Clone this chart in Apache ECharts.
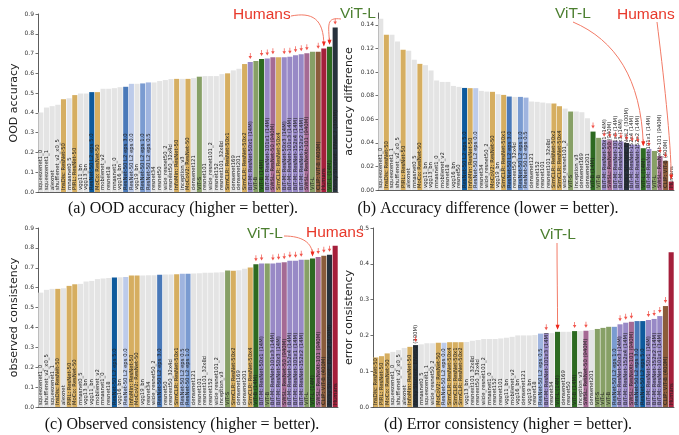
<!DOCTYPE html>
<html>
<head>
<meta charset="utf-8">
<script src="https://cdn.jsdelivr.net/npm/echarts@6/dist/echarts.min.js"></script>
<style>
  html, body { margin: 0; padding: 0; background: #fff; }
  #main { width: 679px; height: 435px; }
</style>
</head>
<body>
<div id="main"></div>
<script>
// (a) OOD accuracy
var namesA = ["squeezenet1_0","squeezenet1_1","alexnet","shufflenet_v2_x0_5","InsDis: ResNet-50","mnasnet0_5","PIRL: ResNet-50","vgg11_bn","vgg13_bn","ResNet-50 L2 eps 5.0","MoCo: ResNet-50","mobilenet_v2","resnet18","mnasnet1_0","vgg16_bn","ResNet-50 L2 eps 3.0","ResNet-50 L2 eps 0.0","vgg19_bn","ResNet-50 L2 eps 1.0","ResNet-50 L2 eps 0.5","resnet34","resnet50","wide_resnet50_2","resnext50_32x4d","InfoMin: ResNet-50","inception_v3","MoCoV2: ResNet-50","densenet121","ViT-S","resnet101","wide_resnet101_2","resnet152","resnext101_32x8d","SimCLR: ResNet-50x1","densenet169","densenet201","SimCLR: ResNet-50x2","BiT-M: ResNet-50x1 (14M)","ViT-B","ViT-B (14M)","BiT-M: ResNet-101x1 (14M)","SWSL: ResNet-50 (940M)","SimCLR: ResNet-50x4","BiT-M: ResNet-50x3 (14M)","BiT-M: ResNet-101x3 (14M)","BiT-M: ResNet-152x4 (14M)","BiT-M: ResNet-152x2 (14M)","SWSL: ResNeXt-101 (940M)","ViT-L","CLIP: ViT-B (400M)","Humans","ViT-L (14M)","Noisy Student: ENetL2 (300M)"];
var valuesA = [0.402,0.427,0.434,0.441,0.469,0.474,0.490,0.498,0.498,0.505,0.505,0.522,0.522,0.525,0.530,0.532,0.547,0.547,0.549,0.554,0.554,0.561,0.566,0.571,0.572,0.572,0.572,0.576,0.583,0.586,0.586,0.586,0.596,0.600,0.615,0.623,0.647,0.657,0.662,0.672,0.675,0.681,0.681,0.681,0.684,0.691,0.697,0.701,0.709,0.709,0.726,0.735,0.832];

// (b) accuracy difference
var namesB = ["squeezenet1_0","InsDis: ResNet-50","squeezenet1_1","shufflenet_v2_x0_5","PIRL: ResNet-50","alexnet","mnasnet0_5","MoCo: ResNet-50","vgg11_bn","vgg13_bn","mnasnet1_0","mobilenet_v2","resnet18","vgg16_bn","resnet50","ResNet-50 L2 eps 5.0","InfoMin: ResNet-50","ResNet-50 L2 eps 0.0","resnet34","wide_resnet50_2","MoCoV2: ResNet-50","vgg19_bn","SimCLR: ResNet-50x1","ResNet-50 L2 eps 3.0","resnext50_32x4d","ResNet-50 L2 eps 1.0","ResNet-50 L2 eps 0.5","densenet121","resnet152","resnet101","resnext101_32x8d","SimCLR: ResNet-50x2","SimCLR: ResNet-50x4","wide_resnet101_2","ViT-S","inception_v3","densenet169","densenet201","ViT-B (14M)","ViT-B","BiT-M: ResNet-50x1 (14M)","SWSL: ResNet-50 (940M)","BiT-M: ResNet-101x3 (14M)","BiT-M: ResNet-50x3 (14M)","Noisy Student: ENetL2 (300M)","BiT-M: ResNet-152x4 (14M)","BiT-M: ResNet-152x2 (14M)","ViT-L (14M)","BiT-M: ResNet-101x1 (14M)","ViT-L","SWSL: ResNeXt-101 (940M)","CLIP: ViT-B (400M)","Humans"];
var valuesB = [0.1451,0.1315,0.1315,0.1259,0.1188,0.1180,0.1103,0.1069,0.1058,0.1013,0.0928,0.0916,0.0916,0.0882,0.0874,0.0865,0.0863,0.0863,0.0840,0.0834,0.0832,0.0812,0.0806,0.0792,0.0789,0.0789,0.0783,0.0750,0.0747,0.0741,0.0735,0.0733,0.0710,0.0690,0.0665,0.0665,0.0659,0.0608,0.0495,0.0442,0.0425,0.0422,0.0418,0.0412,0.0398,0.0385,0.0382,0.0354,0.0348,0.0331,0.0288,0.0247,0.0071];

// (c) observed consistency
var namesC = ["squeezenet1_0","shufflenet_v2_x0_5","squeezenet1_1","InsDis: ResNet-50","alexnet","PIRL: ResNet-50","MoCo: ResNet-50","mnasnet0_5","vgg13_bn","vgg11_bn","mobilenet_v2","mnasnet1_0","resnet18","ResNet-50 L2 eps 5.0","vgg16_bn","ResNet-50 L2 eps 0.0","InfoMin: ResNet-50","MoCoV2: ResNet-50","vgg19_bn","resnet34","wide_resnet50_2","ResNet-50 L2 eps 3.0","resnet50","resnext50_32x4d","SimCLR: ResNet-50x1","ResNet-50 L2 eps 0.5","ResNet-50 L2 eps 1.0","densenet121","resnet101","resnext101_32x8d","resnet152","wide_resnet101_2","inception_v3","ViT-S","SimCLR: ResNet-50x2","densenet169","densenet201","SimCLR: ResNet-50x4","ViT-B (14M)","BiT-M: ResNet-50x1 (14M)","ViT-B","BiT-M: ResNet-101x3 (14M)","BiT-M: ResNet-50x3 (14M)","SWSL: ResNet-50 (940M)","BiT-M: ResNet-152x4 (14M)","BiT-M: ResNet-101x1 (14M)","BiT-M: ResNet-152x2 (14M)","ViT-L","ViT-L (14M)","SWSL: ResNeXt-101 (940M)","CLIP: ViT-B (400M)","Noisy Student: ENetL2 (300M)","Humans"];
var valuesC = [0.575,0.589,0.594,0.594,0.597,0.609,0.617,0.619,0.631,0.634,0.643,0.646,0.649,0.651,0.653,0.654,0.661,0.661,0.661,0.663,0.663,0.665,0.666,0.666,0.668,0.670,0.670,0.671,0.673,0.675,0.675,0.676,0.678,0.686,0.685,0.688,0.695,0.702,0.718,0.722,0.722,0.722,0.725,0.728,0.735,0.735,0.740,0.740,0.747,0.754,0.760,0.765,0.811];

// (d) error consistency
var namesD = ["InsDis: ResNet-50","PIRL: ResNet-50","MoCo: ResNet-50","squeezenet1_0","shufflenet_v2_x0_5","alexnet","InfoMin: ResNet-50","Noisy Student: ENetL2 (300M)","mnasnet0_5","squeezenet1_1","wide_resnet50_2","MoCoV2: ResNet-50","ResNet-50 L2 eps 0.0","SimCLR: ResNet-50x4","SimCLR: ResNet-50x1","SimCLR: ResNet-50x2","vgg13_bn","resnext101_32x8d","resnext50_32x4d","wide_resnet101_2","mnasnet1_0","resnet152","resnet101","vgg11_bn","mobilenet_v2","vgg16_bn","densenet121","vgg19_bn","resnet18","ResNet-50 L2 eps 0.5","BiT-M: ResNet-101x3 (14M)","resnet34","ViT-L (14M)","densenet169","resnet50","ViT-B (14M)","inception_v3","SWSL: ResNet-50 (940M)","densenet201","ViT-S","ViT-L","ViT-B","ResNet-50 L2 eps 1.0","BiT-M: ResNet-50x3 (14M)","BiT-M: ResNet-152x4 (14M)","SWSL: ResNeXt-101 (940M)","ResNet-50 L2 eps 3.0","ResNet-50 L2 eps 5.0","BiT-M: ResNet-50x1 (14M)","BiT-M: ResNet-152x2 (14M)","BiT-M: ResNet-101x1 (14M)","CLIP: ViT-B (400M)","Humans"];
var valuesD = [0.1385,0.142,0.1497,0.154,0.159,0.165,0.168,0.173,0.175,0.178,0.178,0.1795,0.1795,0.181,0.181,0.181,0.1815,0.185,0.187,0.190,0.190,0.190,0.1915,0.1935,0.196,0.200,0.200,0.200,0.201,0.205,0.206,0.2065,0.210,0.210,0.210,0.212,0.212,0.213,0.215,0.218,0.221,0.224,0.224,0.231,0.2355,0.238,0.240,0.240,0.243,0.246,0.254,0.282,0.432];

function barColor(n) {
  if (n === 'Humans') return '#a51f3b';
  if (n.indexOf('CLIP') === 0) return '#8b5c3b';
  if (n.indexOf('Noisy') === 0) return '#27323d';
  if (n.indexOf('SWSL') === 0) return '#a56a94';
  if (n.indexOf('BiT-M') === 0) return '#9889c6';
  if (n === 'ViT-B (14M)' || n === 'ViT-L (14M)') return '#2d6a21';
  if (n.indexOf('ViT') === 0) return '#87a066';
  if (n.indexOf('eps 5.0') > 0) return '#0e5a9d';
  if (n.indexOf('eps 3.0') > 0) return '#4a79b9';
  if (n.indexOf('eps 1.0') > 0) return '#7a9bd1';
  if (n.indexOf('eps 0.5') > 0) return '#9fb4df';
  if (n.indexOf('eps 0.0') > 0) return '#bdcbea';
  if (n.indexOf(': ResNet-50') > 0) return '#d6ae60';
  return '#e4e4e4';
}
// models trained on large datasets carry a "(xxM)" tag
function isFlagged(n) { return /\(\d+M\)/.test(n); }

var panels = [
  { names: namesA, values: valuesA, grid: {left: 38, top: 14, width: 300, height: 178},
    y: {max: 0.9, interval: 0.1, digits: 1, name: 'OOD accuracy', gap: 18} },
  { names: namesB, values: valuesB, grid: {left: 378, top: 13, width: 296, height: 177},
    y: {max: 0.15, interval: 0.02, digits: 2, name: 'accuracy difference', gap: 23} },
  { names: namesC, values: valuesC, grid: {left: 38, top: 228, width: 300, height: 179},
    y: {max: 0.9, interval: 0.1, digits: 1, name: 'observed consistency', gap: 18} },
  { names: namesD, values: valuesD, grid: {left: 373, top: 228, width: 301, height: 179},
    y: {max: 0.5, interval: 0.1, digits: 1, name: 'error consistency', gap: 18} }
];

var arrowPath = 'path://M4,0 L6,0 L6,6 L10,6 L5,12 L0,6 L4,6 Z';
var grids = [], xAxes = [], yAxes = [], series = [];

panels.forEach(function (p, k) {
  grids.push(p.grid);
  xAxes.push({
    type: 'category', gridIndex: k, data: p.names,
    axisLabel: {show: false}, axisTick: {show: false},
    axisLine: {lineStyle: {color: '#333', width: 0.8}}
  });
  yAxes.push({
    type: 'value', gridIndex: k, min: 0, max: p.y.max, interval: p.y.interval,
    name: p.y.name, nameLocation: 'middle', nameGap: p.y.gap,
    nameTextStyle: {fontFamily: 'DejaVu Sans', fontSize: 11, color: '#222'},
    splitLine: {show: false},
    axisLine: {show: true, lineStyle: {color: '#333', width: 0.8}},
    axisTick: {show: true, length: 2.5, lineStyle: {color: '#333', width: 0.7}},
    axisLabel: {
      fontFamily: 'DejaVu Sans', fontSize: 6, color: '#333', margin: 4,
      showMaxLabel: p.y.max === 0.15 ? false : true,
      formatter: (function (d) { return function (v) { return v.toFixed(d); }; })(p.y.digits)
    }
  });
  series.push({
    type: 'bar', xAxisIndex: k, yAxisIndex: k, barCategoryGap: '10%',
    data: p.values.map(function (v, i) {
      return {value: v, itemStyle: {color: barColor(p.names[i])}};
    }),
    label: {
      show: true, position: 'insideBottom', distance: 2, rotate: 90,
      align: 'left', verticalAlign: 'middle', formatter: '{b}',
      fontFamily: 'DejaVu Sans', fontSize: 5.3, color: '#222'
    },
    animation: false
  });
  var flags = [];
  p.names.forEach(function (n, i) { if (isFlagged(n)) flags.push([i, p.values[i]]); });
  series.push({
    type: 'scatter', xAxisIndex: k, yAxisIndex: k, data: flags,
    symbol: arrowPath, symbolSize: [3.5, 6], symbolOffset: [0, -6],
    itemStyle: {color: '#ee2a1f'}, z: 5, animation: false
  });
});

var chart = echarts.init(document.getElementById('main'));
chart.setOption({
  animation: false,
  grid: grids, xAxis: xAxes, yAxis: yAxes, series: series
});

// annotations pointing at bars
function barTop(k, name) {
  var p = panels[k];
  var i = p.names.indexOf(name);
  return chart.convertToPixel({xAxisIndex: k, yAxisIndex: k}, [i, p.values[i]]);
}
var red = '#e8392b', green = '#4c7f30', lineRed = '#f27a66';
var g = [];
function label(txt, x, y, color) {
  g.push({type: 'text', x: x, y: y, z: 20, style: {
    text: txt, fill: color, font: '15.5px "Liberation Sans"',
    textVerticalAlign: 'middle', verticalAlign: 'middle'}});
}
function curve(x1, y1, c1x, c1y, c2x, c2y, tip) {
  var ex = tip[0], ey = tip[1] - 3;
  g.push({type: 'bezierCurve', z: 20, shape: {x1: x1, y1: y1, cpx1: c1x, cpy1: c1y, cpx2: c2x, cpy2: c2y, x2: ex, y2: ey},
    style: {stroke: lineRed, lineWidth: 1, fill: null}});
  g.push({type: 'polygon', z: 21, shape: {points: [[ex - 2, ey - 4], [ex + 2, ey - 4], [ex, ey + 1]]},
    style: {fill: '#ee2a1f'}});
}
function caption(txt, cx, cy) {
  g.push({type: 'text', x: cx, y: cy, style: {
    text: txt, fill: '#111', font: '16px "Liberation Serif"',
    textAlign: 'center', align: 'center', textVerticalAlign: 'middle', verticalAlign: 'middle'}});
}

var t;
label('Humans', 233, 15, red);
t = barTop(0, 'Humans');
curve(291, 16, 312, 12, t[0], t[1] - 30, t);
label('ViT-L', 340, 14, green);
t = barTop(0, 'ViT-L (14M)');
curve(341, 19, 326, 17, t[0] - 1, t[1] - 22, t);

label('ViT-L', 555, 14, green);
t = barTop(1, 'ViT-L (14M)');
curve(573, 22, 615, 40, t[0] - 2, t[1] - 70, t);
label('Humans', 617, 15, red);
t = barTop(1, 'Humans');
curve(657, 22, 663, 70, t[0], t[1] - 40, t);

label('ViT-L', 247, 234, green);
t = barTop(2, 'ViT-L (14M)');
curve(284, 236, 302, 236, t[0], t[1] - 16, t);
label('Humans', 306, 233, red);

label('ViT-L', 540, 235, green);
t = barTop(3, 'ViT-L (14M)');
curve(557, 243, 557, 270, t[0], t[1] - 30, t);

caption('(a) OOD accuracy (higher = better).', 183, 209);
caption('(b) Accuracy difference (lower = better).', 488, 209);
caption('(c) Observed consistency (higher = better).', 182, 425);
caption('(d) Error consistency (higher = better).', 508, 425);

chart.setOption({graphic: g});
</script>
</body>
</html>
